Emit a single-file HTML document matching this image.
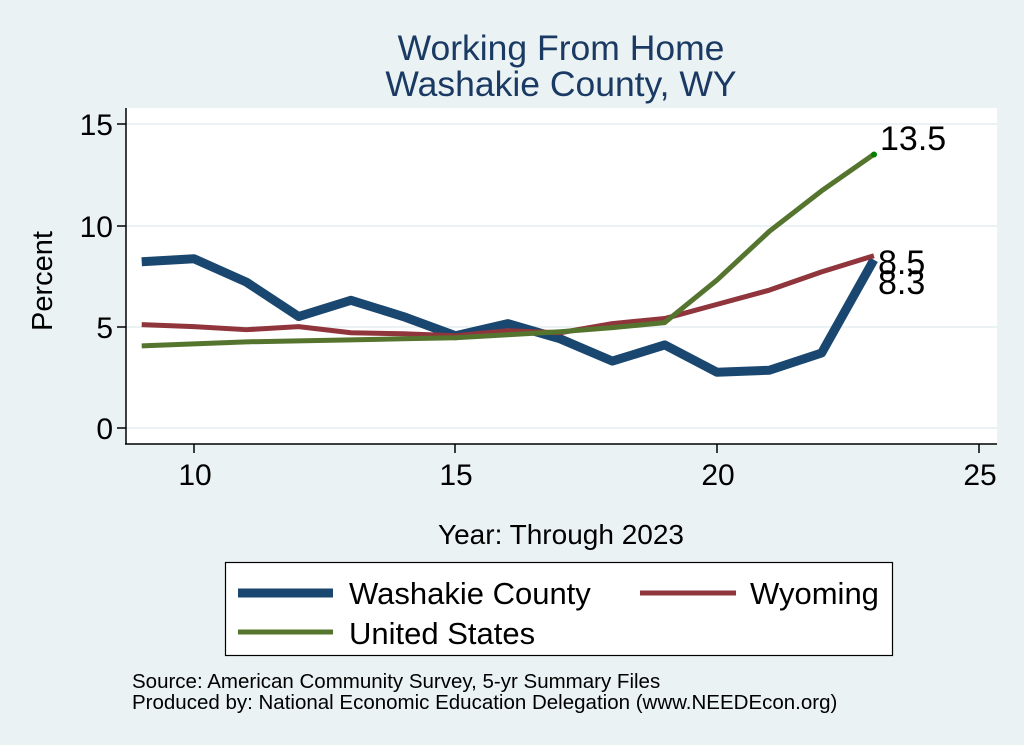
<!DOCTYPE html>
<html><head><style>
body{margin:0;background:#eaf2f3;}
svg{display:block;font-family:"Liberation Sans",Arial,sans-serif;}
</style></head><body>
<svg width="1024" height="745" viewBox="0 0 1024 745">
<rect width="1024" height="745" fill="#eaf2f3"/>
<text x="561" y="60" font-size="35.5" fill="#1a3a63" text-anchor="middle">Working From Home</text>
<text x="561" y="96" font-size="35.5" fill="#1a3a63" text-anchor="middle">Washakie County, WY</text>
<rect x="126" y="108" width="871" height="336" fill="#fff"/>
<g stroke="#eaf2f3" stroke-width="2">
<line x1="126" x2="997" y1="428" y2="428"/>
<line x1="126" x2="997" y1="327" y2="327"/>
<line x1="126" x2="997" y1="226" y2="226"/>
<line x1="126" x2="997" y1="124" y2="124"/>
</g>
<g stroke="#000" stroke-width="1.5">
<line x1="126" x2="126" y1="108" y2="444.5"/>
<line x1="125" x2="997" y1="444" y2="444"/>
<line x1="117" x2="126" y1="428" y2="428"/>
<line x1="117" x2="126" y1="327" y2="327"/>
<line x1="117" x2="126" y1="226" y2="226"/>
<line x1="117" x2="126" y1="124" y2="124"/>
<line x1="194" x2="194" y1="444" y2="453"/>
<line x1="455" x2="455" y1="444" y2="453"/>
<line x1="717" x2="717" y1="444" y2="453"/>
<line x1="979" x2="979" y1="444" y2="453"/>
</g>
<g font-size="30" fill="#000" text-anchor="end">
<text x="113" y="439">0</text><text x="113" y="338">5</text><text x="113" y="237">10</text><text x="113" y="135">15</text>
</g>
<g font-size="30" fill="#000" text-anchor="middle">
<text x="195" y="485">10</text><text x="456" y="485">15</text><text x="718" y="485">20</text><text x="980" y="485">25</text>
</g>
<text transform="translate(52,281) rotate(-90)" font-size="29" text-anchor="middle">Percent</text>
<text x="561" y="544" font-size="28" text-anchor="middle">Year: Through 2023</text>
<g transform="matrix(52.3 0 0 -20.27 -329 428)" fill="none" stroke-linejoin="round">
<polyline vector-effect="non-scaling-stroke" stroke="#1a476f" stroke-width="9" points="9,8.2 10,8.35 11,7.2 12,5.5 13,6.3 14,5.5 15,4.55 16,5.15 17,4.4 18,3.3 19,4.1 20,2.75 21,2.85 22,3.7 23,8.3"/>
<polyline vector-effect="non-scaling-stroke" stroke="#90353b" stroke-width="5" points="9,5.1 10,5.0 11,4.85 12,5.0 13,4.7 14,4.65 15,4.55 16,4.8 17,4.7 18,5.15 19,5.4 20,6.1 21,6.8 22,7.7 23,8.5"/>
<polyline vector-effect="non-scaling-stroke" stroke="#55752f" stroke-width="5" points="9,4.05 10,4.15 11,4.25 12,4.3 13,4.35 14,4.4 15,4.45 16,4.6 17,4.75 18,4.95 19,5.2 20,7.3 21,9.7 22,11.7 23,13.5"/>
</g>
<circle cx="874" cy="154.5" r="3" fill="#008000"/>
<g font-size="34" fill="#000">
<text x="880" y="150">13.5</text>
<text x="878" y="274">8.5</text>
<text x="878" y="294">8.3</text>
</g>
<rect x="225.5" y="562.5" width="667" height="93" fill="#fff" stroke="#000" stroke-width="1.2"/>
<line x1="238" x2="333" y1="593" y2="593" stroke="#1a476f" stroke-width="9"/>
<line x1="640" x2="736" y1="593" y2="593" stroke="#90353b" stroke-width="5"/>
<line x1="238" x2="333" y1="632" y2="632" stroke="#55752f" stroke-width="5"/>
<g font-size="31" fill="#000">
<text x="349" y="604">Washakie County</text>
<text x="750" y="604">Wyoming</text>
<text x="349" y="644">United States</text>
</g>
<g font-size="20.5" fill="#000">
<text x="132" y="688">Source: American Community Survey, 5-yr Summary Files</text>
<text x="132" y="709">Produced by: National Economic Education Delegation (www.NEEDEcon.org)</text>
</g>
</svg>
</body></html>
